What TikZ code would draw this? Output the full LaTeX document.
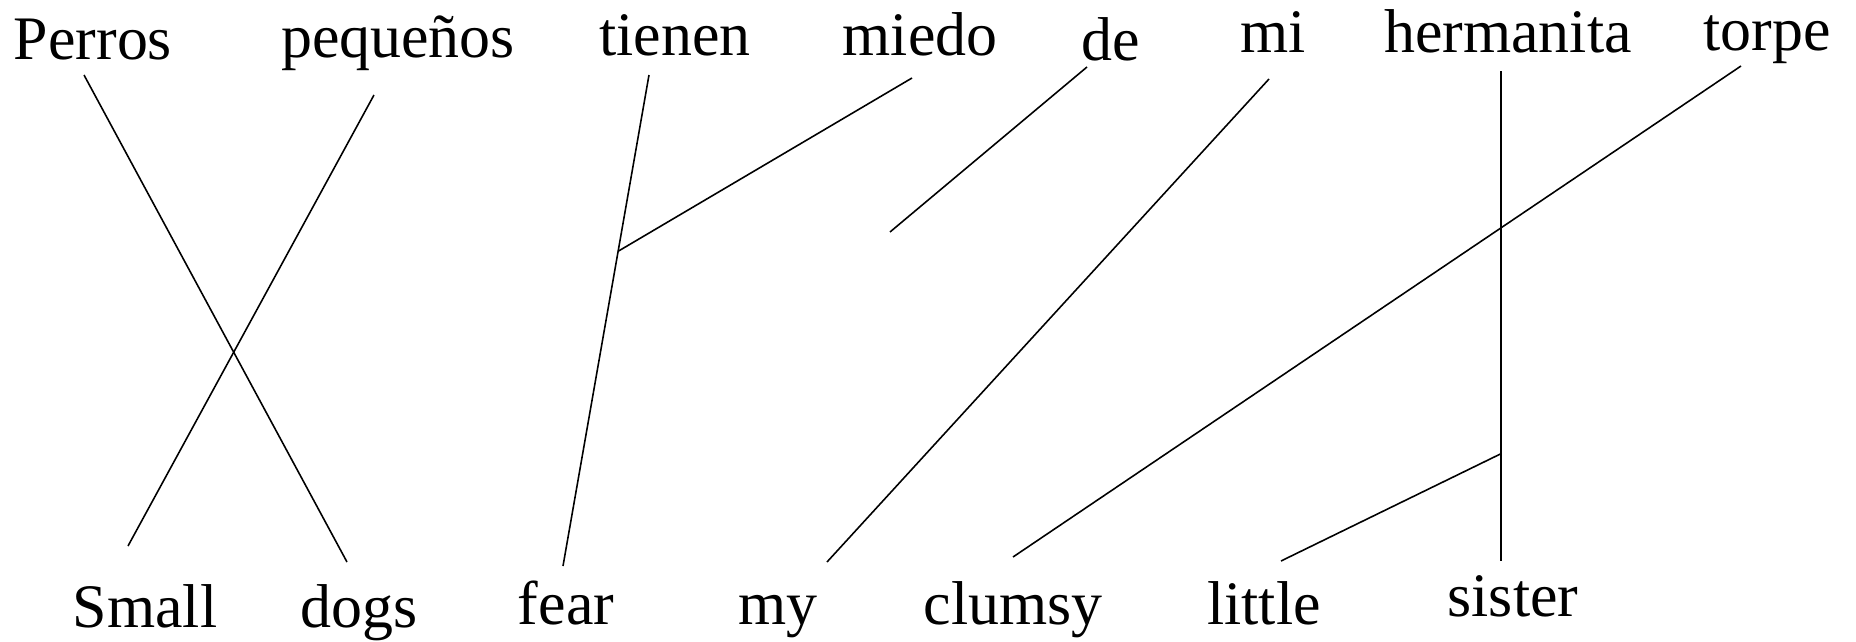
\documentclass[tikz,border=0pt]{standalone}
\usepackage{fontspec}
\setmainfont{Liberation Serif}
\usetikzlibrary{calc}

\begin{document}
\begin{tikzpicture}[x=0.01cm, y=-0.01cm,
    word/.style={inner sep=0pt, anchor=base, font=\fontsize{17.6}{20}\selectfont},
    link/.style={line width=0.45pt}]
            \useasboundingbox (0,0) rectangle (1856,642);
            % Spanish words
            \node[word] (perros)    at (93,59)   {Perros};
            \node[word] (pequenos)  at (398,57)  {pequeños};
            \node[word] (tienen)    at (675,55)  {tienen};
            \node[word] (miedo)     at (920,55)  {miedo};
            \node[word] (de)        at (1111,60) {de};
            \node[word] (mi)        at (1273,52) {mi};
            \node[word] (hermanita) at (1508,52) {hermanita};
            \node[word] (torpe)     at (1767,50) {torpe};
            % English words
            \node[word] (small)  at (145,627)  {Small};
            \node[word] (dogs)   at (359,627)  {dogs};
            \node[word] (fear)   at (566,624)  {fear};
            \node[word] (my)     at (778,624)  {my};
            \node[word] (clumsy) at (1013,624) {clumsy};
            \node[word] (little) at (1264,624) {little};
            \node[word] (sister) at (1513,616) {sister};
            % Link ends under/over the words
            \coordinate (perros-t)    at (84,75);
            \coordinate (pequenos-t)  at (374,95);
            \coordinate (tienen-t)    at (649,75);
            \coordinate (miedo-t)     at (912,78);
            \coordinate (de-t)        at (1087,67);
            \coordinate (mi-t)        at (1269,79);
            \coordinate (hermanita-t) at (1501,71);
            \coordinate (torpe-t)     at (1741,66);
            \coordinate (small-t)  at (128,546);
            \coordinate (dogs-t)   at (347,562);
            \coordinate (fear-t)   at (563,566);
            \coordinate (my-t)     at (827,562);
            \coordinate (clumsy-t) at (1013,557);
            \coordinate (little-t) at (1281,561);
            \coordinate (sister-t) at (1501,561);
            \coordinate (de-free)  at (890,232);
            % Links
            \draw[link] (perros-t) -- (dogs-t);
            \draw[link] (pequenos-t) -- (small-t);
            \draw[link] (tienen-t) -- (fear-t);
            \draw[link] (miedo-t) -- ($(tienen-t)!0.359!(fear-t)$);
            \draw[link] (de-t) -- (de-free);
            \draw[link] (mi-t) -- (my-t);
            \draw[link] (hermanita-t) -- (sister-t);
            \draw[link] (torpe-t) -- (clumsy-t);
            \draw[link] (little-t) -- ($(hermanita-t)!0.781!(sister-t)$);
         \end{tikzpicture}
\end{document}
